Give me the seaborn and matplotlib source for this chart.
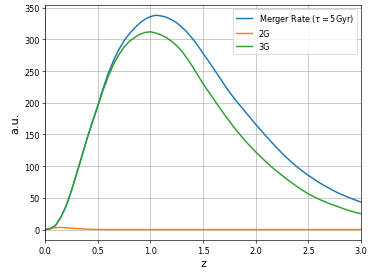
import numpy as np
import pandas as pd
import matplotlib
matplotlib.use("Agg")
import matplotlib.pyplot as plt
import seaborn as sns

# redshift grid (step 0.05) and curves
z = list(np.round(np.arange(0, 3.0001, 0.05), 2))

merger_rate = [0, 1.5, 7, 20, 38, 62, 89, 117, 145, 171,
               196, 223, 247, 267, 284, 298, 309, 318, 326, 332,
               336, 338, 337, 335, 331, 326, 319, 311, 301, 290,
               278, 266, 254, 241.5, 229, 217, 206, 196, 186, 176,
               166, 156.5, 147, 138, 129, 120.5, 112.5, 105, 98, 91.5,
               85.5, 80, 74.5, 69.5, 65, 60.5, 56.5, 53, 49.5, 46.5,
               43.5]

rate_2g = [0, 2.0, 3.1, 3.3, 2.9, 2.2, 1.6, 1.1, 0.7, 0.4,
           0.2, 0.1, 0.05, 0, 0, 0, 0, 0, 0, 0,
           0, 0, 0, 0, 0, 0, 0, 0, 0, 0,
           0, 0, 0, 0, 0, 0, 0, 0, 0, 0,
           0, 0, 0, 0, 0, 0, 0, 0, 0, 0,
           0, 0, 0, 0, 0, 0, 0, 0, 0, 0,
           0]

rate_3g = [0, 1.5, 7, 20, 38, 62, 89, 117, 145, 170,
           195, 220, 242, 261, 276, 288, 297, 303, 308, 311,
           312, 310, 307, 303, 297, 290, 281, 269.5, 257, 243.5,
           230, 218, 206, 194, 182, 171, 160, 150, 140, 131,
           122.5, 114.5, 106.5, 99, 92, 85.5, 79, 73, 67, 61.5,
           56.5, 52, 48, 44.5, 41, 38, 35, 32, 29.5, 27,
           25]

labels = [r'Merger Rate ($\tau=5$Gyr)', '2G', '3G']
colors = ['#1f77b4', '#ff7f0e', '#2ca02c']

df = pd.DataFrame({
    'z': z * 3,
    'rate': merger_rate + rate_2g + rate_3g,
    'series': [labels[0]] * len(z) + [labels[1]] * len(z) + [labels[2]] * len(z),
})

fig, ax = plt.subplots(figsize=(6.4, 4.757), dpi=58.44)
sns.lineplot(data=df, x='z', y='rate', hue='series', hue_order=labels,
             palette=colors, linewidth=1.8, ax=ax, sort=False)

ax.set_xlim(0, 3)
ax.set_xlabel('z', fontsize=14)
ax.set_ylabel('a.u.', fontsize=14)
ax.grid(True)
ax.legend(loc='upper right', title=None)

fig.subplots_adjust(left=0.121, right=0.965, top=0.98, bottom=0.132)
fig.savefig('out.png', dpi=58.44)
